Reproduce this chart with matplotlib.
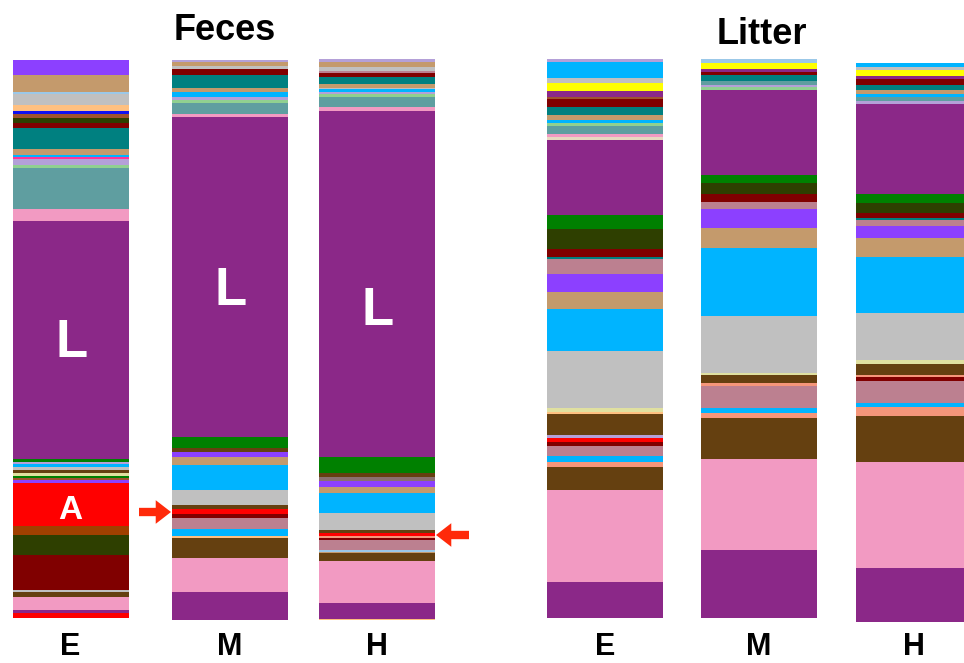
import numpy as np
import matplotlib
matplotlib.use("Agg")
import matplotlib.pyplot as plt

plt.rcParams['font.family'] = ['Liberation Sans', 'DejaVu Sans']

# ---------------- data ----------------
groups = ["E", "M", "H"]
panel_titles = ["Feces", "Litter"]

palette = {
    "violet": "#8C40FF", "tan": "#C49A6C", "silver": "#C0C0C0", "peach": "#FFC080",
    "blue": "#1010F0", "sienna": "#A0522D", "darkolive": "#2E3F00", "maroon": "#800000",
    "teal": "#008080", "deepsky": "#00B4FF", "hotpink": "#FF3399", "lavender": "#B4A0D8",
    "lightgreen": "#90D090", "cadet": "#5F9EA0", "pink": "#F29AC2", "purple": "#8B2888",
    "green": "#008000", "red": "#FF0000", "brownorange": "#A04000", "darkbrown": "#654010",
    "rosy": "#BC8090", "salmon": "#F5967A", "yellow": "#FFFF00", "khaki": "#E0E0A0",
    "beige": "#E8D8C0", "lightblue": "#9BC8E8", "greyrose": "#8A7070",
}

# relative abundance of taxa, listed from top of bar to bottom
feces_E_taxa = ["violet", "tan", "lightblue", "silver", "peach", "blue", "sienna", "darkolive",
                "maroon", "teal", "tan", "deepsky", "hotpink", "lavender", "lightgreen", "cadet",
                "pink", "purple", "green", "lavender", "deepsky", "silver", "darkbrown", "khaki",
                "green", "sienna", "violet", "red", "brownorange", "darkolive", "maroon", "silver",
                "darkbrown", "pink", "purple", "red"]
feces_E_vals = [15, 17, 2, 11, 6, 3, 4, 5, 5, 21, 6, 2, 2, 6, 3, 41, 12, 238, 3, 2, 3, 3, 3, 3,
                2, 2, 3, 43, 9, 20, 35, 2, 5, 13, 3, 5]

feces_M_taxa = ["lavender", "tan", "silver", "maroon", "teal", "tan", "deepsky", "lavender",
                "lightgreen", "cadet", "pink", "purple", "green", "darkbrown", "violet", "tan",
                "deepsky", "silver", "darkbrown", "red", "maroon", "rosy", "deepsky", "peach",
                "darkbrown", "pink", "purple"]
feces_M_vals = [2, 4, 3, 6, 13, 4, 5, 3, 3, 11, 3, 320, 11, 4, 5, 8, 25, 15, 4, 5, 4, 11, 7, 2,
                20, 34, 28]

feces_H_taxa = ["lavender", "tan", "silver", "rosy", "maroon", "teal", "tan", "silver", "deepsky",
                "lavender", "lightgreen", "cadet", "pink", "purple", "green", "darkbrown",
                "greyrose", "violet", "tan", "deepsky", "silver", "darkbrown", "red", "salmon",
                "maroon", "rosy", "lightblue", "tan", "darkbrown", "pink", "purple", "peach"]
feces_H_vals = [3, 5, 4, 2, 4, 7, 4, 1, 3, 2, 3, 10, 4, 346, 16, 4, 4, 6, 6, 20, 17, 3, 3, 2, 2,
                10, 2, 1, 8, 42, 16, 1]

litter_E_taxa = ["lavender", "deepsky", "silver", "yellow", "purple", "sienna", "maroon", "teal",
                 "tan", "deepsky", "lightgreen", "cadet", "pink", "beige", "purple", "green",
                 "darkolive", "maroon", "teal", "rosy", "violet", "tan", "deepsky", "silver",
                 "khaki", "peach", "darkbrown", "lavender", "red", "maroon", "rosy", "deepsky",
                 "salmon", "darkbrown", "pink", "purple"]
litter_E_vals = [3, 16, 5, 8, 6, 2, 8, 8, 5, 3, 3, 8, 3, 3, 75, 14, 20, 8, 2, 15, 18, 17, 42, 57,
                 4, 2, 21, 3, 4, 4, 10, 6, 5, 23, 92, 36]

litter_M_taxa = ["lightblue", "yellow", "purple", "maroon", "teal", "cadet", "lavender",
                 "lightgreen", "purple", "green", "darkolive", "maroon", "rosy", "violet", "tan",
                 "deepsky", "silver", "khaki", "darkbrown", "salmon", "rosy", "deepsky", "salmon",
                 "darkbrown", "pink", "purple"]
litter_M_vals = [4, 6, 3, 3, 6, 4, 2, 3, 85, 8, 11, 8, 7, 19, 20, 68, 57, 2, 8, 3, 22, 5, 5, 41,
                 91, 68]

litter_H_taxa = ["deepsky", "silver", "yellow", "purple", "maroon", "teal", "tan", "deepsky",
                 "cadet", "lavender", "purple", "green", "darkolive", "maroon", "teal", "rosy",
                 "violet", "tan", "deepsky", "silver", "khaki", "darkbrown", "salmon", "maroon",
                 "rosy", "deepsky", "salmon", "darkbrown", "pink", "purple"]
litter_H_vals = [4, 3, 6, 3, 6, 5, 4, 3, 4, 3, 90, 9, 10, 5, 2, 6, 12, 19, 56, 47, 4, 11, 2, 4,
                 22, 4, 9, 46, 106, 54]

bars = [(feces_E_taxa, feces_E_vals), (feces_M_taxa, feces_M_vals), (feces_H_taxa, feces_H_vals),
        (litter_E_taxa, litter_E_vals), (litter_M_taxa, litter_M_vals), (litter_H_taxa, litter_H_vals)]
bar_labels = groups + groups

# ---------------- layout (pixel canvas) ----------------
W, H = 964, 663
fig = plt.figure(figsize=(W / 100, H / 100), dpi=100)
fig.patch.set_facecolor("white")
ax = fig.add_axes([0, 0, 1, 1])
ax.set_xlim(0, W)
ax.set_ylim(H, 0)
ax.axis("off")

bar_cx = [70.5, 229.5, 377.0, 605.0, 759.0, 914.0]
bar_top = [60, 60, 59, 59, 59, 63]
bar_bot = [618, 620, 620, 618, 618, 622]
bar_width = 116

for i, (taxa, vals) in enumerate(bars):
    v = np.asarray(vals, float)
    pct = v / v.sum() * 100.0
    span = bar_bot[i] - bar_top[i]
    h = pct / 100.0 * span
    starts = bar_top[i] + np.concatenate([[0], np.cumsum(h)[:-1]])
    ax.bar(np.full(len(h), bar_cx[i]), h, bottom=starts, width=bar_width,
           color=[palette[t] for t in taxa], edgecolor="none", linewidth=0)
    ax.text(bar_cx[i], 655, bar_labels[i], ha="center", va="baseline", fontsize=22,
            fontweight="bold")

ax.text(225, 40, panel_titles[0], ha="center", va="baseline", fontsize=26, fontweight="bold")
ax.text(762, 44, panel_titles[1], ha="center", va="baseline", fontsize=26, fontweight="bold")

# in-bar labels
ax.text(bar_cx[0] + 1, 357, "L", ha="center", va="baseline", color="white", fontsize=38,
        fontweight="bold")
ax.text(bar_cx[1] + 1, 305, "L", ha="center", va="baseline", color="white", fontsize=38,
        fontweight="bold")
ax.text(bar_cx[2] + 1, 325, "L", ha="center", va="baseline", color="white", fontsize=38,
        fontweight="bold")
ax.text(bar_cx[0], 519, "A", ha="center", va="baseline", color="white", fontsize=24,
        fontweight="bold")

# red arrows
arrow_kw = dict(facecolor="#FF2A0A", edgecolor="none", width=6, headwidth=17, headlength=11)
ax.annotate("", xy=(171, 512), xytext=(139, 512), arrowprops=arrow_kw)
ax.annotate("", xy=(436, 535), xytext=(469, 535), arrowprops=arrow_kw)

fig.savefig("out.png", dpi=100, facecolor="white")
